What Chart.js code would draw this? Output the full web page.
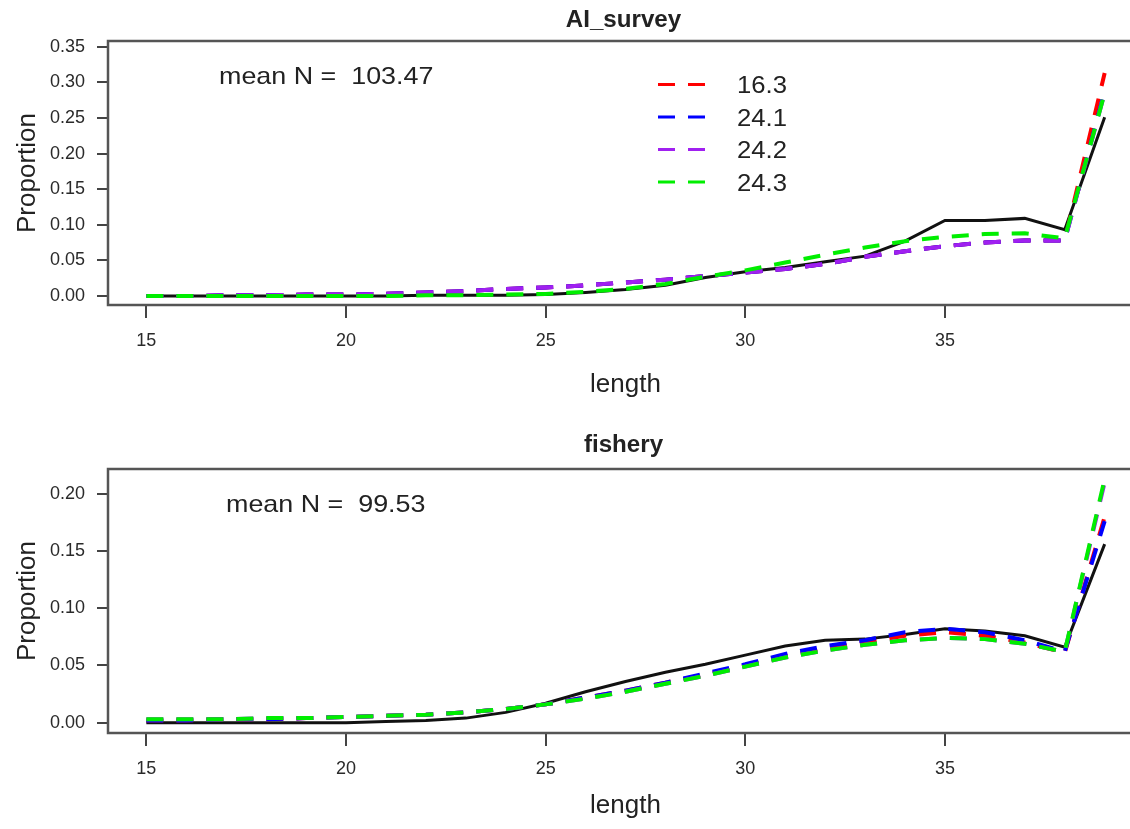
<!DOCTYPE html>
<html>
<head>
<meta charset="utf-8">
<script src="https://cdn.jsdelivr.net/npm/chart.js@4.4.0/dist/chart.umd.min.js"></script>
<style>
  html, body { margin: 0; padding: 0; background: #fff; overflow: hidden; }
  canvas { display: block; }
</style>
</head>
<body>
<canvas id="surveyChart" width="1148" height="415"></canvas>
<canvas id="fisheryChart" width="1148" height="414"></canvas>
<script>
// lengths and tick values
var lengths = [15,16,17,18,19,20,21,22,23,24,25,26,27,28,29,30,31,32,33,34,35,36,37,38,39];
var xTickValues = [15,20,25,30,35];
var surveyYTicks = [0,0.05,0.10,0.15,0.20,0.25,0.30,0.35];
var fisheryYTicks = [0,0.05,0.10,0.15,0.20];
var modelNames = ['16.3','24.1','24.2','24.3'];

// AI_survey proportions
var surveyObs = [0.000,0.000,0.000,0.000,0.000,0.000,0.000,0.001,0.001,0.001,0.002,0.005,0.009,0.015,0.026,0.034,0.040,0.048,0.056,0.077,0.106,0.106,0.109,0.093,0.251];
var survey163 = [0.000,0.000,0.001,0.001,0.002,0.002,0.003,0.005,0.007,0.010,0.012,0.015,0.019,0.023,0.028,0.033,0.038,0.045,0.055,0.063,0.070,0.075,0.078,0.078,0.313];
var survey241 = [0.000,0.000,0.001,0.001,0.002,0.002,0.003,0.005,0.007,0.010,0.012,0.015,0.019,0.023,0.028,0.033,0.038,0.045,0.055,0.063,0.070,0.075,0.078,0.078,0.288];
var survey242 = [0.000,0.000,0.001,0.001,0.002,0.002,0.003,0.005,0.007,0.010,0.012,0.015,0.019,0.023,0.028,0.033,0.038,0.045,0.055,0.063,0.070,0.075,0.078,0.078,0.285];
var survey243 = [0.000,0.000,0.000,0.000,0.000,0.000,0.000,0.001,0.001,0.002,0.003,0.006,0.010,0.017,0.027,0.036,0.047,0.058,0.068,0.077,0.083,0.087,0.088,0.081,0.285];
var surveyMeanN = '103.47';

// fishery proportions
var fisheryObs = [0.000,0.000,0.000,0.000,0.000,0.000,0.001,0.002,0.004,0.009,0.017,0.027,0.036,0.044,0.051,0.059,0.067,0.072,0.073,0.077,0.082,0.080,0.076,0.066,0.156];
var fishery163 = [0.002,0.002,0.003,0.003,0.004,0.005,0.006,0.007,0.009,0.012,0.016,0.022,0.028,0.035,0.042,0.050,0.058,0.065,0.070,0.076,0.079,0.076,0.070,0.061,0.180];
var fishery241 = [0.002,0.002,0.003,0.003,0.004,0.005,0.006,0.007,0.009,0.012,0.016,0.022,0.028,0.035,0.043,0.051,0.060,0.067,0.072,0.079,0.082,0.079,0.072,0.062,0.176];
var fishery242 = [0.003,0.003,0.003,0.004,0.004,0.005,0.006,0.007,0.009,0.012,0.016,0.021,0.027,0.034,0.041,0.049,0.057,0.063,0.068,0.072,0.074,0.073,0.069,0.062,0.210];
var fishery243 = [0.003,0.003,0.003,0.004,0.004,0.005,0.006,0.007,0.009,0.012,0.016,0.021,0.027,0.034,0.041,0.049,0.057,0.063,0.068,0.072,0.074,0.073,0.069,0.062,0.213];
var fisheryMeanN = '99.53';

var modelColors = ['#ff0000', '#0000ff', '#a020f0', '#00ee00'];
var fontFamily = "'Liberation Sans', Arial, sans-serif";
var dashPattern = [17, 13];

Chart.defaults.font.family = fontFamily;
Chart.defaults.color = '#222';

function toPoints(values) {
  return lengths.map(function (x, i) { return { x: x, y: values[i] }; });
}

function makeDatasets(obs, models) {
  var sets = [{
    label: 'observed',
    data: toPoints(obs),
    borderColor: '#111',
    borderWidth: 3,
    pointRadius: 0,
    order: 10
  }];
  models.forEach(function (m, i) {
    sets.push({
      label: modelNames[i],
      data: toPoints(m),
      borderColor: modelColors[i],
      borderWidth: 4,
      borderDash: dashPattern,
      pointRadius: 0,
      order: 4 - i
    });
  });
  return sets;
}

// text slightly stretched sideways, like the wide lettering of the original
function wideText(ctx, text, x, y, stretch, align) {
  ctx.save();
  ctx.translate(x, y);
  ctx.scale(stretch, 1);
  ctx.textAlign = align;
  ctx.fillText(text, 0, 0);
  ctx.restore();
}

// box, title, mean N and legend drawn on top of the plot
var panelDecor = {
  id: 'panelDecor',
  afterDatasetsDraw: function (chart, args, opts) {
    var ctx = chart.ctx, a = chart.chartArea;
    ctx.save();
    ctx.lineWidth = 2.5;
    ctx.strokeStyle = '#555';
    ctx.strokeRect(a.left, a.top, a.right - a.left, a.bottom - a.top);

    ctx.fillStyle = '#222';
    ctx.textBaseline = 'alphabetic';
    ctx.font = 'bold 23px ' + fontFamily;
    wideText(ctx, opts.title, (a.left + a.right) / 2 - 2, opts.titleY, 1.05, 'center');

    ctx.font = '24px ' + fontFamily;
    wideText(ctx, 'mean N =  ' + opts.meanN, opts.meanX, opts.meanY, 1.12, 'left');

    if (opts.legend) {
      chart.data.datasets.forEach(function (ds) {
        var idx = modelNames.indexOf(ds.label);
        if (idx < 0) return;
        var y = 84.5 + idx * 32.5;
        ctx.setLineDash(dashPattern);
        ctx.lineWidth = 3;
        ctx.strokeStyle = ds.borderColor;
        ctx.beginPath();
        ctx.moveTo(658, y);
        ctx.lineTo(705, y);
        ctx.stroke();
        ctx.setLineDash([]);
        ctx.fillStyle = '#222';
        ctx.font = '24px ' + fontFamily;
        wideText(ctx, ds.label, 737, y + 8.5, 1.07, 'left');
      });
    }
    ctx.restore();
  }
};

function makeOptions(cfg) {
  return {
    responsive: false,
    animation: false,
    events: [],
    layout: { padding: { top: cfg.plotTop, right: 5, bottom: 0, left: 0 } },
    plugins: {
      legend: { display: false },
      tooltip: { enabled: false },
      panelDecor: cfg.decor
    },
    elements: { line: { tension: 0, fill: false } },
    scales: {
      x: {
        type: 'linear',
        min: 14.04,
        max: 39.96,
        afterFit: function (s) { s.height = cfg.xAxisHeight; },
        afterBuildTicks: function (s) { s.ticks = xTickValues.map(function (v) { return { value: v }; }); },
        grid: { drawOnChartArea: false, drawTicks: true, tickLength: 13, color: '#444', lineWidth: 2 },
        border: { display: false },
        ticks: { font: { size: 18 }, color: '#2a2a2a', padding: 12, maxRotation: 0 },
        title: { display: true, text: 'length', font: { size: 26 }, color: '#222', padding: { top: 0, bottom: cfg.xTitlePad } }
      },
      y: {
        min: cfg.yMin,
        max: cfg.yMax,
        afterFit: function (s) { s.width = 108; },
        afterBuildTicks: function (s) { s.ticks = cfg.yTicks.map(function (v) { return { value: v }; }); },
        grid: { drawOnChartArea: false, drawTicks: true, tickLength: 11, color: '#444', lineWidth: 2 },
        border: { display: false },
        ticks: { font: { size: 18 }, color: '#2a2a2a', padding: 12, callback: function (v) { return v.toFixed(2); } },
        title: { display: true, text: 'Proportion', font: { size: 26 }, color: '#222', padding: { top: 12, bottom: 0 } }
      }
    }
  };
}

var surveyChart = new Chart(document.getElementById('surveyChart'), {
  type: 'line',
  data: { datasets: makeDatasets(surveyObs, [survey163, survey241, survey242, survey243]) },
  options: makeOptions({
    plotTop: 41, xAxisHeight: 110, xTitlePad: 15,
    yMin: -0.0126, yMax: 0.358, yTicks: surveyYTicks,
    decor: { title: 'AI_survey', titleY: 27, meanN: surveyMeanN, meanX: 219, meanY: 84, legend: true }
  }),
  plugins: [panelDecor]
});

var fisheryChart = new Chart(document.getElementById('fisheryChart'), {
  type: 'line',
  data: { datasets: makeDatasets(fisheryObs, [fishery163, fishery241, fishery242, fishery243]) },
  options: makeOptions({
    plotTop: 54, xAxisHeight: 96, xTitlePad: 8,
    yMin: -0.009, yMax: 0.2216, yTicks: fisheryYTicks,
    decor: { title: 'fishery', titleY: 37, meanN: fisheryMeanN, meanX: 226, meanY: 97, legend: false }
  }),
  plugins: [panelDecor]
});
</script>
</body>
</html>
